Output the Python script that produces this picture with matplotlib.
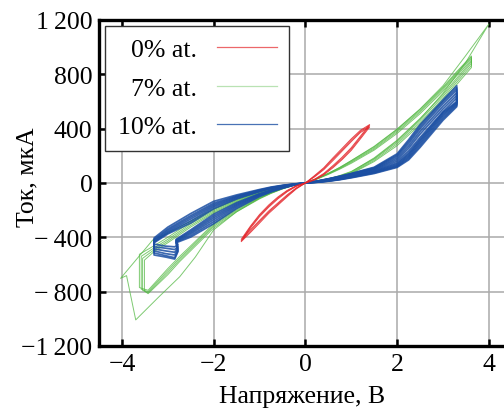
import matplotlib
matplotlib.use('Agg')
import matplotlib.pyplot as plt
from matplotlib.lines import Line2D

plt.rcParams['font.family'] = ['Liberation Serif', 'DejaVu Serif']

# ---------------- data ----------------
# 0% at. (red) - voltage path and current for three cycles
red_v = [0, 0.2, 0.4, 0.6, 0.8, 1.0, 1.2, 1.4, 1.2, 1.0, 0.8, 0.6, 0.4, 0.2, 0,
         -0.2, -0.4, -0.6, -0.8, -1.0, -1.2, -1.4, -1.2, -1.0, -0.8, -0.6, -0.4, -0.2, 0]
red_i = [
    [0, 25, 65, 120, 180, 250, 335, 422, 380, 315, 245, 175, 105, 50, 0,
     -40, -95, -155, -215, -285, -355, -425, -325, -240, -170, -110, -60, -22, 0],
    [0, 22, 60, 112, 172, 240, 325, 412, 372, 305, 235, 165, 98, 45, 0,
     -36, -88, -147, -206, -275, -345, -415, -318, -232, -162, -103, -55, -20, 0],
    [0, 28, 70, 128, 190, 260, 345, 430, 388, 325, 255, 185, 112, 55, 0,
     -44, -102, -163, -224, -295, -365, -432, -333, -248, -178, -117, -65, -25, 0],
]

# 7% at. (green) - medium cycles
green_pos_fwd_v = [0, 0.25, 0.5, 0.75, 1.0, 1.5, 2.0, 2.5, 3.0, 3.3, 3.62]
green_pos_ret_v = [3.62, 3.3, 3.0, 2.5, 2.0, 1.5, 1.0, 0.75, 0.5, 0.25, 0]
green_neg_fwd_v = [-0.25, -0.5, -0.75, -1.0, -1.5, -2.0, -2.5, -3.0, -3.3]
green_neg_ret_v = [-3.43, -3.0, -2.74, -2.0, -1.5, -1.0, -0.75, -0.5, -0.25, 0]
green_tip_v = [-3.62, -3.58, -3.55, -3.51]
green_pos_fwd_i = [
    [0, 10, 24, 43, 68, 158, 275, 430, 605, 725, 850],
    [0, 11, 26, 46, 72, 166, 288, 445, 622, 742, 866],
    [0, 12, 28, 49, 77, 175, 300, 460, 638, 758, 882],
    [0, 13, 30, 52, 82, 185, 315, 475, 652, 772, 895],
]
green_pos_ret_i = [
    [905, 790, 675, 510, 365, 242, 145, 102, 63, 28, 0],
    [918, 802, 688, 522, 376, 250, 152, 106, 66, 30, 0],
    [928, 812, 698, 532, 386, 258, 158, 110, 69, 31, 0],
    [935, 820, 706, 542, 395, 266, 164, 114, 72, 33, 0],
]
green_neg_fwd_i = [
    [-9, -23, -42, -66, -124, -196, -288, -400, -462, -525],
    [-10, -25, -45, -70, -130, -205, -300, -415, -478, -540],
    [-11, -26, -47, -73, -136, -214, -312, -428, -492, -555],
    [-12, -28, -50, -77, -142, -222, -324, -440, -505, -568],
]
green_neg_ret_i = [
    [-770, -790, -630, -540, -300, -190, -104, -68, -38, -14, 0],
    [-782, -800, -645, -553, -310, -198, -108, -71, -40, -15, 0],
    [-790, -808, -660, -565, -320, -205, -112, -74, -42, -16, 0],
    [-795, -815, -675, -578, -332, -212, -117, -77, -44, -17, 0],
]
# 7% at. (green) - largest cycle
green_big_v = [0, 0.25, 0.5, 0.75, 1.0, 1.5, 2.0, 2.5, 3.0, 3.5, 4.0,
               3.5, 3.0, 2.5, 2.0, 1.5, 1.0, 0.75, 0.5, 0.25, 0,
               -0.25, -0.5, -0.75, -1.0, -1.5, -2.0, -2.5, -3.0, -3.33, -3.7, -4.03,
               -3.9, -3.7, -3.2, -2.74, -2.4, -2.0, -1.5, -1.0, -0.75, -0.5, -0.25, 0]
green_big_i = [0, 12, 30, 55, 85, 180, 310, 470, 660, 890, 1170,
               940, 716, 545, 397, 270, 165, 115, 70, 32, 0,
               -9, -22, -40, -63, -120, -190, -280, -372, -420, -569, -702,
               -682, -1008, -840, -690, -545, -345, -212, -112, -74, -42, -16, 0]

# 10% at. (blue)
blue_pos_fwd_v = [0, 0.25, 0.5, 0.75, 1.0, 1.5, 2.0, 2.25, 2.5, 3.0, 3.3]
blue_pos_ret_v = [3.3, 3.0, 2.5, 2.25, 2.0, 1.5, 1.0, 0.75, 0.5, 0.25, 0]
blue_neg_fwd_v = [-0.25, -0.5, -0.75, -1.0, -1.5, -2.0, -2.5, -3.0, -3.3]
blue_wiggle_v = [-3.3, -3.05, -2.85, -2.78]
blue_neg_ret_v = [-2.82, -2.5, -2.0, -1.5, -1.0, -0.75, -0.5, -0.25, 0]
blue_pos_fwd_i = [
    [0, 5, 13, 24, 38, 70, 115, 170, 262, 462, 562],
    [0, 6, 14, 26, 41, 74, 120, 180, 275, 475, 572],
    [0, 6, 15, 27, 43, 78, 126, 190, 288, 488, 580],
    [0, 7, 16, 29, 46, 82, 132, 200, 300, 500, 588],
    [0, 7, 17, 30, 48, 86, 140, 210, 312, 510, 595],
    [0, 8, 18, 32, 50, 90, 148, 220, 322, 520, 600],
]
blue_pos_ret_i = [
    [625, 525, 335, 235, 160, 95, 58, 40, 25, 11, 0],
    [645, 545, 360, 255, 172, 100, 61, 42, 26, 12, 0],
    [665, 565, 380, 272, 184, 104, 64, 44, 28, 12, 0],
    [685, 585, 400, 290, 196, 108, 66, 46, 29, 13, 0],
    [700, 600, 415, 305, 206, 112, 68, 48, 30, 13, 0],
    [716, 612, 430, 318, 215, 116, 70, 50, 31, 14, 0],
]
blue_neg_fwd_i = [
    [-7, -17, -30, -48, -88, -135, -225, -325, -405],
    [-8, -19, -33, -52, -95, -148, -240, -338, -415],
    [-9, -20, -35, -55, -100, -158, -252, -348, -422],
    [-9, -21, -37, -58, -106, -168, -265, -358, -430],
    [-10, -22, -39, -61, -112, -178, -280, -366, -436],
    [-11, -24, -41, -64, -118, -190, -295, -375, -440],
]
blue_wiggle_i = [
    [-450, -465, -470, -455],
    [-470, -480, -490, -470],
    [-485, -500, -510, -480],
    [-500, -520, -530, -490],
    [-515, -535, -550, -500],
    [-530, -545, -560, -505],
]
blue_neg_ret_i = [
    [-415, -345, -230, -145, -78, -52, -30, -12, 0],
    [-420, -355, -243, -153, -82, -55, -32, -13, 0],
    [-425, -365, -256, -161, -86, -57, -33, -13, 0],
    [-430, -375, -270, -169, -90, -60, -35, -14, 0],
    [-435, -387, -285, -178, -95, -63, -37, -15, 0],
    [-440, -398, -300, -188, -100, -66, -39, -16, 0],
]

series_labels = ['0% at.', '7% at.', '10% at.']
x_ticks = [-4, -2, 0, 2, 4]
x_tick_labels = ['\u22124', '\u22122', '0', '2', '4']
y_ticks = [-1200, -800, -400, 0, 400, 800, 1200]
y_tick_labels = ['\u22121\u2009200', '\u2212\u2009800', '\u2212\u2009400', '0',
                 '400', '800', '1\u2009200']

# ---------------- styling ----------------
RED = '#e4262b'
GREEN = '#52b842'
BLUE = '#1b4fa3'
LW = 0.7
FS = 18.5

fig = plt.figure(figsize=(5.04, 4.10), dpi=100)
ax = fig.add_axes([0.1974, 0.1537, 0.8026, 0.7951])

# green medium cycles
for k in range(len(green_pos_fwd_i)):
    tip = green_tip_v[k]
    v = green_pos_fwd_v + green_pos_ret_v + green_neg_fwd_v + [tip, tip] + green_neg_ret_v
    i = green_pos_fwd_i[k] + green_pos_ret_i[k] + green_neg_fwd_i[k] + green_neg_ret_i[k]
    ax.plot(v, i, color=GREEN, lw=LW, alpha=0.75)
ax.plot(green_big_v, green_big_i, color=GREEN, lw=LW, alpha=0.75)

# blue cycles
blue_v = blue_pos_fwd_v + blue_pos_ret_v + blue_neg_fwd_v + blue_wiggle_v + blue_neg_ret_v
for k in range(len(blue_pos_fwd_i)):
    i = (blue_pos_fwd_i[k] + blue_pos_ret_i[k] + blue_neg_fwd_i[k]
         + blue_wiggle_i[k] + blue_neg_ret_i[k])
    ax.plot(blue_v, i, color=BLUE, lw=1.25, alpha=0.85)

# red cycles
for cyc in red_i:
    ax.plot(red_v, cyc, color=RED, lw=LW, alpha=0.85)

ax.set_xlim(-4.49, 4.33)
ax.set_ylim(-1200, 1200)
ax.set_xticks(x_ticks, x_tick_labels)
ax.set_yticks(y_ticks, y_tick_labels)
ax.grid(True, color='#aaaaaa', lw=1.1)
ax.set_axisbelow(True)

for s in ['left', 'bottom', 'top']:
    ax.spines[s].set_linewidth(2.4)
    ax.spines[s].set_color('black')
ax.spines['right'].set_visible(False)
ax.tick_params(axis='both', which='both', direction='in', length=5, width=1.8,
               top=True, right=False, labelsize=FS, pad=5, colors='black')

ax.set_xlabel('Напряжение, В', fontsize=FS, labelpad=7)
ax.set_ylabel('Ток, мкА', fontsize=FS)
ax.yaxis.set_label_coords(-0.15, 0.52)

handles = [Line2D([], [], color=RED, lw=0.9, alpha=0.7),
           Line2D([], [], color=GREEN, lw=0.9, alpha=0.4),
           Line2D([], [], color=BLUE, lw=0.9, alpha=0.8)]
leg = ax.legend(handles, series_labels, loc='upper left', markerfirst=False,
                fontsize=FS, frameon=True, fancybox=False, framealpha=1,
                edgecolor='#333333', borderaxespad=0.22, borderpad=0.5,
                handlelength=2.3, handletextpad=0.8, labelspacing=0.6)
leg.get_frame().set_linewidth(1.0)

fig.savefig('out.png', dpi=100)
